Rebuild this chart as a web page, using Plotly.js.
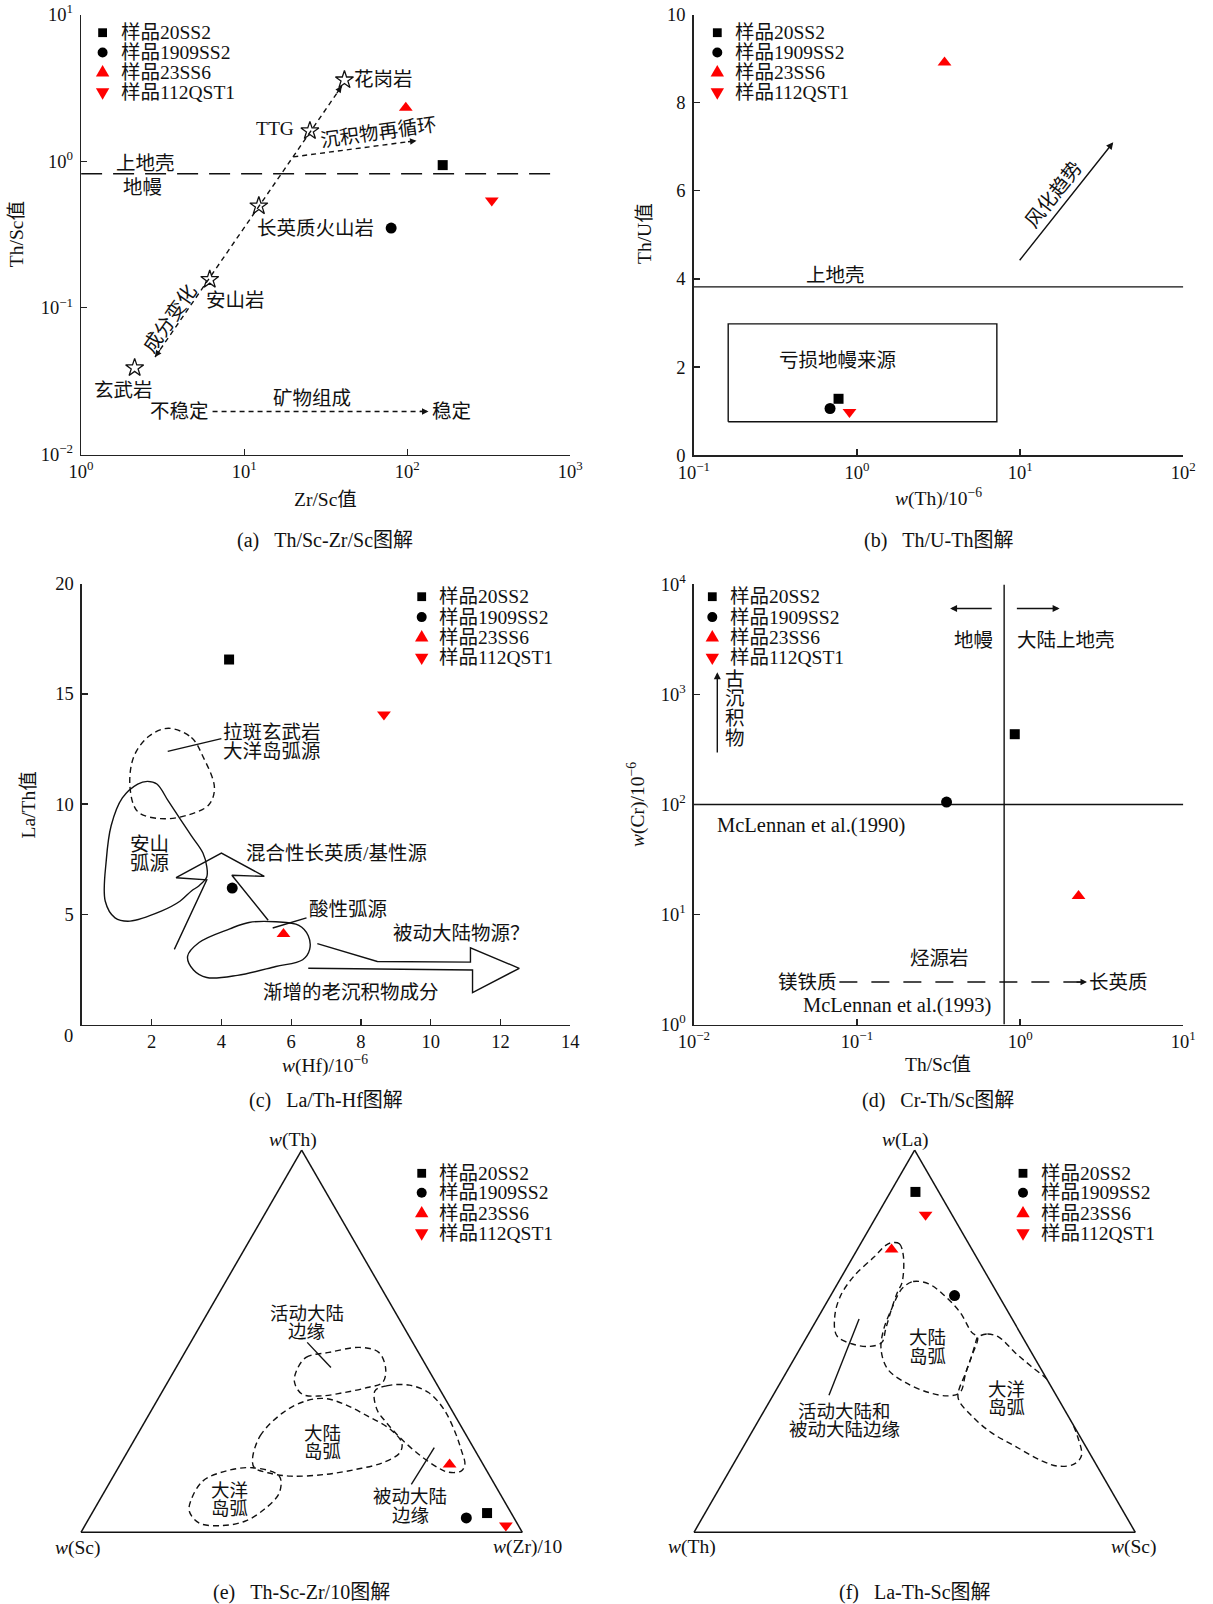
<!DOCTYPE html>
<html><head><meta charset="utf-8">
<script src="https://cdn.plot.ly/plotly-3.0.1.min.js"></script>
<style>html,body{margin:0;padding:0;background:#fff}</style>
</head><body><div id="chart" style="width:1213px;height:1604px"></div>
<script>
// ================= DATA =================
const sampleNames = ['样品20SS2', '样品1909SS2', '样品23SS6', '样品112QST1'];

// (a) Th/Sc - Zr/Sc
const aZrSc = [165, 79.7, 98, 330];
const aThSc = [0.94, 0.35, 2.31, 0.54];
const aRockNames = ['玄武岩', '安山岩', '长英质火山岩', 'TTG', '花岗岩'];
const aRockZrSc = [2.13, 6.15, 12.3, 25.3, 41.2];
const aRockThSc = [0.039, 0.156, 0.495, 1.61, 3.58];
const aTrendZrSc = [2.84, 39.7];
const aTrendThSc = [0.0462, 3.25];
const aRecycleZrSc = [20, 114];
const aRecycleThSc = [1.07, 1.38];
const aUpperCrustZrSc = [1, 805];
const aUpperCrustThSc = [0.82, 0.82];
const aMineralZrSc = [6.4, 135];
const aMineralThSc = [0.01965, 0.01965];
const aXTickVals = [1, 10, 100, 1000];
const aXTickText = ['10<sup>0</sup>', '10<sup>1</sup>', '10<sup>2</sup>', '10<sup>3</sup>'];
const aYTickVals = [0.01, 0.1, 1, 10];
const aYTickText = ['10<sup>−2</sup>', '10<sup>−1</sup>', '10<sup>0</sup>', '10<sup>1</sup>'];

// (b) Th/U - Th
const bTh = [0.771, 0.684, 3.44, 0.90];
const bThU = [1.28, 1.06, 8.91, 0.98];
const bUpperCrustTh = [0.1, 100];
const bUpperCrustThU = [3.82, 3.82];
const bBoxTh = [0.1625, 7.2, 7.2, 0.1625, 0.1625];
const bBoxThU = [0.76, 0.76, 2.98, 2.98, 0.76];
const bWeatherTh = [9.77, 37.2];
const bWeatherThU = [4.39, 7.10];
const bXTickVals = [0.1, 1, 10, 100];
const bXTickText = ['10<sup>−1</sup>', '10<sup>0</sup>', '10<sup>1</sup>', '10<sup>2</sup>'];

// (c) La/Th - Hf
const cHf = [4.22, 4.31, 5.78, 8.66];
const cLaTh = [16.56, 6.19, 4.11, 14.06];
const cTholeiiteHf = [2.48, 3.14, 3.47, 3.80, 3.64, 3.03, 2.26, 1.60, 1.38, 1.49, 1.93, 2.48];
const cTholeiiteLaTh = [13.44, 13.02, 12.16, 10.75, 9.97, 9.50, 9.34, 9.66, 10.75, 12.16, 13.09, 13.44];
const cAndesiteHf = [1.88, 2.15, 2.48, 2.81, 3.14, 3.47, 3.58, 3.58, 3.36, 3.14, 2.81, 2.26, 1.38, 0.95, 0.67, 0.70, 0.84, 1.16, 1.60, 1.88];
const cAndesiteLaTh = [11.03, 10.91, 10.13, 9.34, 8.56, 7.78, 7.16, 6.69, 6.30, 6.06, 5.59, 5.13, 4.69, 4.84, 5.59, 7.47, 9.03, 10.28, 10.91, 11.03];
const cFelsicHf = [3.03, 3.36, 4.24, 4.79, 5.56, 6.22, 6.49, 6.53, 6.33, 5.56, 4.46, 3.58, 3.20, 3.03];
const cFelsicLaTh = [3.09, 3.72, 4.34, 4.63, 4.66, 4.50, 4.03, 3.41, 2.94, 2.63, 2.23, 2.13, 2.47, 3.09];
const cMixArrowHf = [2.65, 3.58, 2.70, 4.00, 5.23, 4.30, 5.34];
const cMixArrowLaTh = [3.41, 6.56, 6.66, 7.78, 6.72, 6.77, 4.73];
const cPassiveArrowHf = [6.75, 8.47, 11.14, 11.14, 12.54, 11.20, 11.20, 6.49];
const cPassiveArrowLaTh = [3.67, 2.86, 2.83, 3.48, 2.55, 1.45, 2.47, 2.55];
const cLeader1Hf = [2.46, 4.0];
const cLeader1LaTh = [12.39, 12.97];
const cLeader2Hf = [5.47, 6.44];
const cLeader2LaTh = [4.38, 4.84];

// (d) Cr - Th/Sc
const dThSc = [0.927, 0.354, 2.28, null];
const dCr = [435, 105, 14.7, null];
const dVLineThSc = [0.798, 0.798];
const dVLineCr = [1, 10000];
const dHLineThSc = [0.01, 10];
const dHLineCr = [100, 100];
const dMaficFelsicThSc = [0.078, 2.57];
const dMaficFelsicCr = [2.43, 2.43];
const dXTickVals = [0.01, 0.1, 1, 10];
const dXTickText = ['10<sup>−2</sup>', '10<sup>−1</sup>', '10<sup>0</sup>', '10<sup>1</sup>'];
const dYTickVals = [1, 10, 100, 1000, 10000];
const dYTickText = ['10<sup>0</sup>', '10<sup>1</sup>', '10<sup>2</sup>', '10<sup>3</sup>', '10<sup>4</sup>'];

// (e) Th - Sc - Zr/10 ternary (a = Th, b = Sc, c = Zr/10)
const eTh = [0.0503, 0.0376, 0.1776, 0.0175];
const eSc = [0.0547, 0.108, 0.076, 0.0285];
const eZr = [0.895, 0.854, 0.7465, 0.954];
const eActiveTh = [0.4226, 0.4576, 0.4707, 0.4838, 0.4707, 0.4269, 0.3920, 0.3788, 0.3657, 0.3570, 0.3613, 0.3920, 0.4226];
const eActiveZr = [0.2770, 0.2812, 0.3267, 0.3895, 0.4394, 0.4770, 0.4874, 0.4593, 0.4138, 0.3662, 0.3206, 0.2879, 0.2770];
const eContArcTh = [0.1907, 0.2520, 0.3132, 0.3438, 0.3500, 0.3351, 0.3045, 0.2695, 0.2345, 0.2082, 0.1820, 0.1645, 0.1514, 0.1470, 0.1557, 0.1689, 0.1907];
const eContArcZr = [0.2932, 0.2799, 0.3013, 0.3381, 0.3783, 0.4292, 0.4965, 0.5661, 0.6096, 0.6184, 0.5924, 0.5405, 0.4776, 0.4018, 0.3454, 0.3085, 0.2932];
const eOceanArcTh = [0.0857, 0.1339, 0.1601, 0.1689, 0.1470, 0.1032, 0.0595, 0.0289, 0.0175, 0.0245, 0.0551, 0.0857];
const eOceanArcZr = [0.2070, 0.2089, 0.2478, 0.3042, 0.3758, 0.3977, 0.3849, 0.3568, 0.3105, 0.2549, 0.2179, 0.2070];
const ePassiveTh = [0.3701, 0.3832, 0.3850, 0.3657, 0.3220, 0.2607, 0.2170, 0.1776, 0.1601, 0.1575, 0.1689, 0.1995, 0.2432, 0.2870, 0.3220, 0.3701];
const ePassiveZr = [0.4811, 0.5005, 0.5516, 0.6047, 0.6612, 0.7179, 0.7527, 0.7811, 0.7812, 0.7522, 0.7248, 0.6705, 0.6052, 0.5486, 0.5094, 0.4811];
const eLeaderActiveTh = [0.4969, 0.4313];
const eLeaderActiveZr = [0.2641, 0.3507];
const eLeaderPassiveTh = [0.2213, 0.1251];
const eLeaderPassiveZr = [0.6899, 0.6860];

// (f) La - Th - Sc ternary (a = La, b = Th, c = Sc)
const fLa = [0.8906, 0.6194, 0.7402, 0.8311];
const fTh = [0.0529, 0.0999, 0.1822, 0.0597];
const fSc = [0.0565, 0.2807, 0.0776, 0.1092];
const fMarginLa = [0.7577, 0.7550, 0.7244, 0.6544, 0.6282, 0.5844, 0.5319, 0.4969, 0.4864, 0.4926, 0.5144, 0.5669, 0.6194, 0.6719, 0.7200, 0.7507, 0.7577];
const fMarginSc = [0.0689, 0.0879, 0.1121, 0.1444, 0.1469, 0.1555, 0.1685, 0.1771, 0.1557, 0.1127, 0.0664, 0.0357, 0.0227, 0.0276, 0.0478, 0.0591, 0.0689];
const fContArcLa = [0.6413, 0.6562, 0.6500, 0.6194, 0.5757, 0.5232, 0.5101, 0.4619, 0.4182, 0.3657, 0.3570, 0.3657, 0.3920, 0.4269, 0.4794, 0.5319, 0.5844, 0.6282, 0.6413];
const fContArcSc = [0.1537, 0.1684, 0.2069, 0.2577, 0.3150, 0.3678, 0.3877, 0.3985, 0.4070, 0.4200, 0.3977, 0.3491, 0.2827, 0.2254, 0.1841, 0.1641, 0.1555, 0.1513, 0.1537];
const fOceanArcLa = [0.5101, 0.5188, 0.5101, 0.4707, 0.4357, 0.3920, 0.3220, 0.2520, 0.1995, 0.1776, 0.1732, 0.1864, 0.2257, 0.2607, 0.3045, 0.3526, 0.4182, 0.4619, 0.4969, 0.5101];
const fOceanArcSc = [0.3877, 0.4055, 0.4365, 0.4917, 0.5446, 0.6107, 0.6812, 0.7428, 0.7780, 0.7711, 0.7379, 0.6958, 0.6142, 0.5435, 0.4772, 0.4221, 0.4070, 0.3985, 0.3899, 0.3877];
const fLeaderLa = [0.5582, 0.3587];
const fLeaderSc = [0.0950, 0.1265];

// ================= STYLE / LAYOUT =================
const W = 1213, H = 1604;
const FONT = 'Liberation Serif, "Noto Sans CJK SC", serif';
const INK = '#111';
const symbols = ['square', 'circle', 'triangle-up', 'triangle-down'];
const colors = ['#000000', '#000000', '#ff0000', '#ff0000'];
const sizes = [10, 11, 12, 12];
const L = Math.log10;
const px = v => v / W, py = v => 1 - v / H;

const traces = [];
const annotations = [];
const shapes = [];

function line(x, y, xa, ya, dash, shape, width) {
  traces.push({type: 'scatter', x, y, xaxis: xa, yaxis: ya, mode: 'lines', showlegend: false, hoverinfo: 'skip',
    line: {color: INK, width: width || 1.4, dash: dash || 'solid', shape: shape || 'linear', smoothing: 1}, cliponaxis: false});
}
function samples(xs, ys, xa, ya) {
  sampleNames.forEach((n, i) => traces.push({type: 'scatter', x: [xs[i]], y: [ys[i]], xaxis: xa, yaxis: ya, mode: 'markers', name: n,
    showlegend: false, cliponaxis: false, marker: {symbol: symbols[i], color: colors[i], size: sizes[i], line: {width: 0}}}));
}
function tline(aa, cc, sub, dash) {
  traces.push({type: 'scatterternary', subplot: sub, a: aa, c: cc, b: aa.map((v, i) => 1 - v - cc[i]), mode: 'lines',
    showlegend: false, hoverinfo: 'skip', line: {color: INK, width: 1.4, dash: dash || 'solid', shape: dash ? 'spline' : 'linear', smoothing: 1}});
}
function tsamples(aa, bb, cc, sub) {
  sampleNames.forEach((n, i) => traces.push({type: 'scatterternary', subplot: sub, a: [aa[i]], b: [bb[i]], c: [cc[i]], mode: 'markers', name: n,
    showlegend: false, cliponaxis: false, marker: {symbol: symbols[i], color: colors[i], size: sizes[i], line: {width: 0}}}));
}
function txt(text, x, y, xa, ya, o) {
  annotations.push(Object.assign({text, x, y, xref: xa, yref: ya, xanchor: 'center', yanchor: 'middle', showarrow: false,
    font: {family: FONT, size: 19.5, color: INK}}, o || {}));
}
function ptxt(text, X, Y, o) { txt(text, px(X), py(Y), 'paper', 'paper', o); }
function head(x, y, xa, ya, dx, dy) {
  annotations.push({text: '', x, y, xref: xa, yref: ya, ax: dx, ay: dy, showarrow: true, arrowhead: 2, arrowsize: 1, arrowwidth: 1.3, arrowcolor: INK, standoff: 0});
}
function arrow(x0, y0, x1, y1, xa, ya) {
  annotations.push({text: '', x: x1, y: y1, ax: x0, ay: y0, xref: xa, yref: ya, axref: xa, ayref: ya, showarrow: true, arrowhead: 2, arrowsize: 1, arrowwidth: 1.4, arrowcolor: INK, standoff: 0});
}
function legendBlock(mx, tx, rows) {
  rows.forEach((ry, i) => {
    const base = {xref: 'paper', yref: 'paper', xsizemode: 'pixel', ysizemode: 'pixel', xanchor: px(mx), yanchor: py(ry), fillcolor: colors[i], line: {width: 0}, layer: 'above'};
    if (i === 0) shapes.push(Object.assign({type: 'rect', x0: -4.4, x1: 4.4, y0: -4.4, y1: 4.4}, base));
    if (i === 1) shapes.push(Object.assign({type: 'circle', x0: -5, x1: 5, y0: -5, y1: 5}, base));
    if (i === 2) shapes.push(Object.assign({type: 'path', path: 'M-6.7,-4 L6.7,-4 L0,7.4 Z'}, base));
    if (i === 3) shapes.push(Object.assign({type: 'path', path: 'M-6.7,4 L6.7,4 L0,-7.4 Z'}, base));
    ptxt(sampleNames[i], tx, ry, {xanchor: 'left'});
  });
}

// ---------- panel (a) ----------
line(aUpperCrustZrSc, aUpperCrustThSc, 'x', 'y', '21px,11px');
line(aTrendZrSc, aTrendThSc, 'x', 'y', '5px,4px');
line(aRecycleZrSc, aRecycleThSc, 'x', 'y', '5px,4px');
line(aMineralZrSc, aMineralThSc, 'x', 'y', '5px,4px');
traces.push({type: 'scatter', x: aRockZrSc, y: aRockThSc, text: aRockNames, xaxis: 'x', yaxis: 'y', mode: 'markers', showlegend: false, hoverinfo: 'skip',
  marker: {symbol: 'star-open', size: 13.5, color: INK, line: {width: 1.3, color: INK}}});
samples(aZrSc, aThSc, 'x', 'y');
head(L(aTrendZrSc[0]), L(aTrendThSc[0]), 'x', 'y', 6, -8.5);
head(L(aTrendZrSc[1]), L(aTrendThSc[1]), 'x', 'y', -6, 8.5);
head(L(aRecycleZrSc[1]), L(aRecycleThSc[1]), 'x', 'y', -10, 1.3);
head(L(aMineralZrSc[1]), L(aMineralThSc[1]), 'x', 'y', -10, 0);
txt('上地壳', L(2.48), L(0.963), 'x', 'y');
txt('地幔', L(2.375), L(0.66), 'x', 'y');
txt('TTG', L(15.4), L(1.68), 'x', 'y');
txt('花岗岩', L(71.5), L(3.58), 'x', 'y');
txt('长英质火山岩', L(27.5), L(0.345), 'x', 'y');
txt('安山岩', L(8.83), L(0.1127), 'x', 'y');
txt('玄武岩', L(1.81), L(0.0272), 'x', 'y');
txt('成分变化', L(3.52), L(0.0846), 'x', 'y', {textangle: -55});
txt('沉积物再循环', L(67), L(1.566), 'x', 'y', {textangle: -8});
txt('不稳定', L(4.03), L(0.01965), 'x', 'y');
txt('矿物组成', L(26), L(0.024), 'x', 'y');
txt('稳定', L(187), L(0.01965), 'x', 'y');

// ---------- panel (b) ----------
line(bUpperCrustTh, bUpperCrustThU, 'x2', 'y2', 'solid');
line(bBoxTh, bBoxThU, 'x2', 'y2', 'solid');
samples(bTh, bThU, 'x2', 'y2');
arrow(L(bWeatherTh[0]), bWeatherThU[0], L(bWeatherTh[1]), bWeatherThU[1], 'x2', 'y2');
txt('上地壳', L(0.742), 4.08, 'x2', 'y2');
txt('亏损地幔来源', L(0.763), 2.16, 'x2', 'y2');
txt('风化趋势', L(16.1), 5.91, 'x2', 'y2', {textangle: -52});

// ---------- panel (c) ----------
line(cTholeiiteHf, cTholeiiteLaTh, 'x3', 'y3', '6px,4px', 'spline');
line(cAndesiteHf, cAndesiteLaTh, 'x3', 'y3', 'solid', 'spline');
line(cFelsicHf, cFelsicLaTh, 'x3', 'y3', 'solid', 'spline');
line(cMixArrowHf, cMixArrowLaTh, 'x3', 'y3');
line(cPassiveArrowHf, cPassiveArrowLaTh, 'x3', 'y3');
line(cLeader1Hf, cLeader1LaTh, 'x3', 'y3');
line(cLeader2Hf, cLeader2LaTh, 'x3', 'y3');
samples(cHf, cLaTh, 'x3', 'y3');
txt('拉斑玄武岩', 4.0, 13.25, 'x3', 'y3', {xanchor: 'left'});
txt('大洋岛弧源', 4.0, 12.39, 'x3', 'y3', {xanchor: 'left'});
txt('安山', 1.93, 8.17, 'x3', 'y3');
txt('弧源', 1.93, 7.31, 'x3', 'y3');
txt('混合性长英质/基性源', 7.29, 7.78, 'x3', 'y3');
txt('酸性弧源', 7.62, 5.2, 'x3', 'y3');
txt('被动大陆物源？', 10.89, 4.11, 'x3', 'y3');
txt('渐增的老沉积物成分', 7.71, 1.45, 'x3', 'y3');
ptxt('0', 68.9, 1035.5, {font: {family: FONT, size: 18.5, color: INK}});

// ---------- panel (d) ----------
line(dVLineThSc, dVLineCr, 'x4', 'y4', 'solid');
line(dHLineThSc, dHLineCr, 'x4', 'y4', 'solid');
line(dMaficFelsicThSc, dMaficFelsicCr, 'x4', 'y4', '18px,14px');
samples(dThSc, dCr, 'x4', 'y4');
head(L(dMaficFelsicThSc[1]), L(dMaficFelsicCr[1]), 'x4', 'y4', -12, 0);
arrow(L(0.684), L(6040), L(0.372), L(6040), 'x4', 'y4');
arrow(L(0.935), L(6040), L(1.746), L(6040), 'x4', 'y4');
arrow(L(0.01393), L(288), L(0.01393), L(1592), 'x4', 'y4');
txt('地幔', L(0.519), L(3110), 'x4', 'y4');
txt('大陆上地壳', L(1.897), L(3110), 'x4', 'y4');
['古', '沉', '积', '物'].forEach((ch, i) => txt(ch, -1.748, [3.139, 2.961, 2.779, 2.598][i], 'x4', 'y4'));
const mcl = {font: {family: FONT, size: 20.5, color: INK}};
txt('McLennan et al.(1990)', -1.2806, 1.809, 'x4', 'y4', mcl);
txt('烃源岩', -0.494, 0.604, 'x4', 'y4');
txt('镁铁质', -1.305, 0.385, 'x4', 'y4');
txt('长英质', 0.602, 0.385, 'x4', 'y4');
txt('McLennan et al.(1993)', -0.753, 0.175, 'x4', 'y4', mcl);

// ---------- panel (e) ----------
tline(eActiveTh, eActiveZr, 'ternary', '6px,4px');
tline(eContArcTh, eContArcZr, 'ternary', '6px,4px');
tline(eOceanArcTh, eOceanArcZr, 'ternary', '6px,4px');
tline(ePassiveTh, ePassiveZr, 'ternary', '6px,4px');
tline(eLeaderActiveTh, eLeaderActiveZr, 'ternary');
tline(eLeaderPassiveTh, eLeaderPassiveZr, 'ternary');
tsamples(eTh, eSc, eZr, 'ternary');
const tf = {font: {family: FONT, size: 18.5, color: INK}};
ptxt('活动大陆', 306.7, 1313.5, tf);
ptxt('边缘', 306.7, 1331.7, tf);
ptxt('大陆', 322.7, 1434, tf);
ptxt('岛弧', 322.7, 1452.3, tf);
ptxt('大洋', 229.3, 1490.7, tf);
ptxt('岛弧', 229.3, 1509, tf);
ptxt('被动大陆', 409.6, 1497.3, tf);
ptxt('边缘', 410, 1515.7, tf);
ptxt('<i>w</i>(Th)', 293.3, 1140);
ptxt('<i>w</i>(Sc)', 78.3, 1548);
ptxt('<i>w</i>(Zr)/10', 527.7, 1547.3);

// ---------- panel (f) ----------
tline(fMarginLa, fMarginSc, 'ternary2', '6px,4px');
tline(fContArcLa, fContArcSc, 'ternary2', '6px,4px');
tline(fOceanArcLa, fOceanArcSc, 'ternary2', '6px,4px');
tline(fLeaderLa, fLeaderSc, 'ternary2');
tsamples(fLa, fTh, fSc, 'ternary2');
ptxt('大陆', 927.6, 1338.3, tf);
ptxt('岛弧', 927.6, 1356.6, tf);
ptxt('大洋', 1006.6, 1390, tf);
ptxt('岛弧', 1006.6, 1408.3, tf);
ptxt('活动大陆和', 844.3, 1411.7, tf);
ptxt('被动大陆边缘', 844.3, 1430, tf);
ptxt('<i>w</i>(La)', 905.7, 1140);
ptxt('<i>w</i>(Th)', 691.7, 1547.3);
ptxt('<i>w</i>(Sc)', 1133.6, 1547.3);

// ---------- axis titles & captions ----------
ptxt('Zr/Sc值', 325.3, 499.3);
ptxt('Th/Sc值', 17.2, 234, {textangle: -90});
ptxt('<i>w</i>(Th)/10<sup>−6</sup>', 938.2, 497.6);
ptxt('Th/U值', 645, 234, {textangle: -90});
ptxt('<i>w</i>(Hf)/10<sup>−6</sup>', 325.3, 1064);
ptxt('La/Th值', 28.7, 804.8, {textangle: -90});
ptxt('Th/Sc值', 938.2, 1064);
ptxt('<i>w</i>(Cr)/10<sup>−6</sup>', 637.1, 804.8, {textangle: -90});
const cap = {font: {family: FONT, size: 20, color: INK}};
ptxt('(a)\u00a0\u00a0\u00a0Th/Sc-Zr/Sc图解', 325, 540, cap);
ptxt('(b)\u00a0\u00a0\u00a0Th/U-Th图解', 938, 540, cap);
ptxt('(c)\u00a0\u00a0\u00a0La/Th-Hf图解', 326, 1100.7, cap);
ptxt('(d)\u00a0\u00a0\u00a0Cr-Th/Sc图解', 938, 1100.7, cap);
ptxt('(e)\u00a0\u00a0\u00a0Th-Sc-Zr/10图解', 301.7, 1592.3, cap);
ptxt('(f)\u00a0\u00a0\u00a0La-Th-Sc图解', 915, 1592.3, cap);

// ---------- legends ----------
legendBlock(102.6, 118.6, [32.7, 52.5, 72.5, 92.3]);
legendBlock(717.3, 732.9, [32.7, 52.5, 72.5, 92.3]);
legendBlock(421.7, 437.3, [596.7, 617.1, 637.5, 657.7]);
legendBlock(712.3, 728.3, [596.7, 617.1, 637.5, 657.7]);
legendBlock(421.7, 437.0, [1173.3, 1192.7, 1213.3, 1233.3]);
legendBlock(1023.0, 1038.6, [1173.3, 1192.7, 1213.3, 1233.3]);

// ---------- axes ----------
function axis(domain, extra) {
  return Object.assign({domain, showline: true, linecolor: '#222', linewidth: 1.5, ticks: 'inside', ticklen: 6, tickwidth: 1.3, tickcolor: '#222',
    showgrid: false, zeroline: false, tickfont: {family: FONT, size: 18.5, color: INK}, ticklabelstandoff: 0, fixedrange: true}, extra);
}
const tAx = {showticklabels: false, ticks: '', showgrid: false, showline: true, linecolor: '#111', linewidth: 1.5, title: {text: ''}, min: 0};
const triMidY = 1341.2;

const layout = {
  width: W, height: H, autosize: false, margin: {l: 0, r: 0, t: 0, b: 0}, showlegend: false,
  paper_bgcolor: '#fff', plot_bgcolor: 'rgba(0,0,0,0)', font: {family: FONT, size: 19, color: INK}, hovermode: false,
  xaxis: axis([px(81.1), px(570.3)], {type: 'log', range: [0, 3], tickvals: aXTickVals, ticktext: aXTickText, anchor: 'y'}),
  yaxis: axis([py(454.5), py(14.5)], {type: 'log', range: [-2, 1], tickvals: aYTickVals, ticktext: aYTickText, anchor: 'x', ticklabelstandoff: 3}),
  xaxis2: axis([px(693.8), px(1183.3)], {type: 'log', range: [-1, 2], tickvals: bXTickVals, ticktext: bXTickText, anchor: 'y2'}),
  yaxis2: axis([py(455.2), py(14.5)], {range: [0, 10], dtick: 2, tick0: 0, anchor: 'x2', ticklabelstandoff: 3}),
  xaxis3: axis([px(81.9), px(570.2)], {range: [0, 14], tickvals: [2, 4, 6, 8, 10, 12, 14], anchor: 'y3'}),
  yaxis3: axis([py(1024.5), py(583.7)], {range: [0, 20], tickvals: [5, 10, 15, 20], anchor: 'x3', ticklabelstandoff: 3}),
  xaxis4: axis([px(693.8), px(1183.3)], {type: 'log', range: [-2, 1], tickvals: dXTickVals, ticktext: dXTickText, anchor: 'y4'}),
  yaxis4: axis([py(1024.5), py(584.4)], {type: 'log', range: [0, 4], tickvals: dYTickVals, ticktext: dYTickText, anchor: 'x4', ticklabelstandoff: 3}),
  ternary: {domain: {x: [px(81), px(522.3)], y: [py(triMidY + 215), py(triMidY - 215)]}, sum: 1, bgcolor: 'rgba(0,0,0,0)', aaxis: tAx, baxis: tAx, caxis: tAx},
  ternary2: {domain: {x: [px(694), px(1135.3)], y: [py(triMidY + 215), py(triMidY - 215)]}, sum: 1, bgcolor: 'rgba(0,0,0,0)', aaxis: tAx, baxis: tAx, caxis: tAx},
  annotations, shapes
};

Plotly.newPlot('chart', traces, layout, {staticPlot: true, displayModeBar: false});
</script>
</body></html>
